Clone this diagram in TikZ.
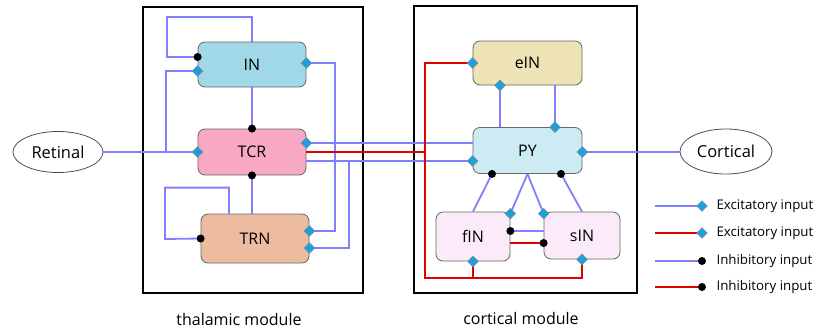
\documentclass[tikz,border=0pt]{standalone}
\usepackage{fontspec}
\setmainfont{Open Sans}
\usetikzlibrary{shapes.geometric,calc}
\definecolor{wblue}{RGB}{128,128,255}
\definecolor{wred}{RGB}{225,0,0}
\definecolor{dfill}{RGB}{30,160,220}
\definecolor{cIN}{RGB}{160,216,232}
\definecolor{cTCR}{RGB}{247,168,196}
\definecolor{cTRN}{RGB}{237,187,160}
\definecolor{ceIN}{RGB}{238,227,181}
\definecolor{cPY}{RGB}{205,235,243}
\definecolor{cfs}{RGB}{251,234,248}
\begin{document}
\begin{tikzpicture}[x=1pt,y=-1pt,
  cell/.style={draw=black!60, line width=0.8pt, rounded corners=7pt, inner sep=0pt, font=\fontsize{16}{18}\selectfont},
  bw/.style={wblue, line width=1.8pt},
  rw/.style={wred, line width=1.8pt},
  exc/.style={diamond, fill=dfill, draw=black!45, line width=0.4pt, minimum size=11pt, inner sep=0pt},
  inh/.style={circle, fill=black, minimum size=8pt, inner sep=0pt},
  module/.style={draw=black, line width=1.8pt},
  ell/.style={ellipse, draw=black!70, line width=0.8pt, inner sep=0pt, font=\fontsize{16.5}{18}\selectfont},
  lbl/.style={font=\fontsize{16}{18}\selectfont},
  leg/.style={font=\fontsize{13.3}{15}\selectfont, anchor=west}
]
\useasboundingbox (0,0) rectangle (817,333);
% modules
\draw[module] (143,7) rectangle (363,293);
\draw[module] (414,6) rectangle (637,293);
\node[lbl] (thal) at (239,319) {thalamic module};
\node[lbl] (cort) at (521,318) {cortical module};
% nodes
\node[cell, fill=cIN, minimum width=108pt, minimum height=45pt] (IN) at (252,64.5) {IN};
\node[cell, fill=cTCR, minimum width=108pt, minimum height=46pt] (TCR) at (252,152) {TCR};
\node[cell, fill=cTRN, minimum width=108pt, minimum height=49pt] (TRN) at (255,238.5) {TRN};
\node[cell, fill=ceIN, minimum width=109pt, minimum height=44pt] (eIN) at (527.5,63) {eIN};
\node[cell, fill=cPY, minimum width=109pt, minimum height=46pt] (PY) at (527.5,150.5) {PY};
\node[cell, fill=cfs, minimum width=74pt, minimum height=49pt] (fIN) at (473,236.5) {fIN};
\node[cell, fill=cfs, minimum width=76pt, minimum height=47pt] (sIN) at (582,235.5) {sIN};
\node[ell, minimum width=90pt, minimum height=41pt] (Ret) at (58,152) {Retinal};
\node[ell, minimum width=92pt, minimum height=45pt] (Cor) at (726,151.5) {Cortical};
% port coordinates
\coordinate (INwl) at ($(IN.west)+(0,6.5)$);
\coordinate (INwh) at ($(IN.west)+(0,-7.5)$);
\coordinate (INe) at ($(IN.east)+(0,-1.5)$);
\coordinate (TCRe1) at ($(TCR.east)+(0,-9)$);
\coordinate (TCRe2) at (TCR.east);
\coordinate (TCRe3) at ($(TCR.east)+(0,9)$);
\coordinate (TRNe1) at ($(TRN.east)+(0,-7.5)$);
\coordinate (TRNe2) at ($(TRN.east)+(0,9.5)$);
\coordinate (TRNn) at ($(TRN.north)+(-26,0)$);
\coordinate (eINs1) at ($(eIN.south)+(-27.5,0)$);
\coordinate (eINs2) at ($(eIN.south)+(27.5,0)$);
\coordinate (PYs1) at ($(PY.south)+(-35.5,0)$);
\coordinate (PYs2) at ($(PY.south)+(33.5,0)$);
\coordinate (PYe) at ($(PY.east)+(0,1.5)$);
\coordinate (fINne) at ($(fIN.north east)+(0,2)$);
\coordinate (sINnw) at ($(sIN.north west)+(0,2)$);
\coordinate (fINe) at ($(fIN.east)+(0,-5.5)$);
\coordinate (sINw) at ($(sIN.west)+(0,7.5)$);
% thalamic connections
\draw[bw] (Ret.east) -- (TCR.west);
\draw[bw] (166,152) |- (INwl);
\draw[bw] (IN.north) -- ++(0,-25) -| (167,57) -- (INwh);
\draw[bw] (INe) -- (335,63) |- (TRNe1);
\draw[bw] (TCRe3) -- (349,161) |- (TRNe2);
\draw[bw] (IN.south) -- (TCR.north);
\draw[bw] (TCR.south) -- (TCR.south |- TRN.north);
\draw[bw] (TRNn) -- ++(0,-26) -| (165,239) -- (TRN.west);
% thalamus -> cortex
\draw[bw] (TCRe1) -- (TCRe1 -| PY.west);
\draw[bw] (TCRe3) -- (TCRe3 -| PY.west);
\draw[rw] (TCRe2) -- (425,152);
\draw[rw] (eIN.west) -- (425,63) -- (425,278) -| (sIN.south);
\draw[rw] (fIN.south) -- (fIN.south |- 425,278);
% cortical connections
\draw[bw] (eINs1) -- (eINs1 |- PY.north);
\draw[bw] (eINs2) -- (eINs2 |- PY.north);
\draw[bw] (PYe) -- (PYe -| Cor.west);
\draw[bw] (PYs1) -- (fIN.north);
\draw[bw] (PYs2) -- (sIN.north);
\draw[bw] (PY.south) -- (fINne);
\draw[bw] (PY.south) -- (sINnw);
\draw[bw] (fINe) -- (fINe -| sIN.west);
\draw[rw] (sINw) -- (sINw -| fIN.east);
% markers
\node[exc] (m1) at (TCR.west) {};
\node[exc] (m2) at (INwl) {};
\node[inh] (m3) at (INwh) {};
\node[exc] (m4) at (INe) {};
\node[exc] (m5) at (TRNe1) {};
\node[exc] (m6) at (TRNe2) {};
\node[inh] (m7) at (TCR.north) {};
\node[inh] (m8) at (TCR.south) {};
\node[inh] (m9) at (TRN.west) {};
\node[exc] (m10) at (TCRe1) {};
\node[exc] (m11) at (TCRe3 -| PY.west) {};
\node[exc] (m12) at (eIN.west) {};
\node[exc] (m13) at (fIN.south) {};
\node[exc] (m14) at (sIN.south) {};
\node[exc] (m15) at (eINs1) {};
\node[exc] (m16) at (eINs2 |- PY.north) {};
\node[exc] (m17) at (PYe) {};
\node[inh] (m18) at (PYs1) {};
\node[inh] (m19) at (PYs2) {};
\node[exc] (m20) at (fINne) {};
\node[exc] (m21) at (sINnw) {};
\node[inh] (m22) at (fINe) {};
\node[inh] (m23) at (sINw) {};
% legend
\coordinate (l1a) at (655,206); \coordinate (l1b) at (702,206);
\coordinate (l2a) at (655,233); \coordinate (l2b) at (702,233);
\coordinate (l3a) at (655,261); \coordinate (l3b) at (702,261);
\coordinate (l4a) at (655,287); \coordinate (l4b) at (702,287);
\draw[bw] (l1a) -- (l1b); \node[exc] (d1) at (l1b) {};
\draw[rw] (l2a) -- (l2b); \node[exc] (d2) at (l2b) {};
\draw[bw] (l3a) -- (l3b); \node[inh] (d3) at (l3b) {};
\draw[rw] (l4a) -- (l4b); \node[inh] (d4) at (l4b) {};
\node[leg] (t1) at (713,206) {Excitatory input};
\node[leg] (t2) at (713,233) {Excitatory input};
\node[leg] (t3) at (713,261) {Inhibitory input};
\node[leg] (t4) at (713,287) {Inhibitory input};
\end{tikzpicture}
\end{document}
